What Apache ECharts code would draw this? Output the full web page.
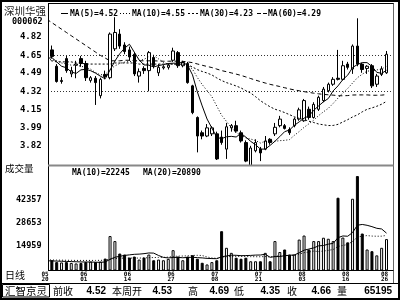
<!DOCTYPE html>
<html><head><meta charset="utf-8">
<script src="https://cdn.jsdelivr.net/npm/echarts@6/dist/echarts.min.js"></script>
<style>html,body{margin:0;padding:0;background:#fff}#c{width:400px;height:300px}</style>
</head><body><div id="c"></div>
<script>
const stockName = '深圳华强';
const stockCode = '000062';
const dates = ['05/20','05/23','05/24','05/25','05/26','05/27','05/30','05/31',
'06/01','06/02','06/03','06/06','06/07','06/08','06/09','06/10','06/13','06/14','06/15','06/16','06/17','06/20','06/21','06/22','06/23','06/24','06/27','06/28','06/29','06/30',
'07/01','07/04','07/05','07/06','07/07','07/08','07/11','07/12','07/13','07/14','07/15','07/18','07/19','07/20','07/21','07/22','07/25','07/26','07/27','07/28','07/29',
'08/01','08/02','08/03','08/04','08/05','08/08','08/09','08/10','08/11','08/12','08/15','08/16','08/17','08/18','08/19','08/22','08/23','08/24','08/25','08/26'];
const opens = [4.74,4.70,4.55,4.41,4.62,4.48,4.56,4.62,4.575,4.42,4.44,4.28,4.475,4.445,4.71,4.845,4.745,4.70,4.66,4.46,4.53,4.51,4.63,4.49,4.535,4.54,4.605,4.675,4.555,4.575,4.37,4.08,3.94,3.91,3.93,3.93,3.90,3.79,3.985,4.005,3.94,3.85,3.64,3.775,3.79,3.79,3.88,3.93,4.005,4.005,3.97,4.005,4.065,4.05,4.155,4.08,4.155,4.235,4.325,4.385,4.44,4.43,4.57,4.525,4.735,4.57,4.53,4.555,4.385,4.475,4.49];
const closes = [4.70,4.64,4.41,4.42,4.51,4.51,4.57,4.575,4.445,4.445,4.40,4.43,4.455,4.845,4.86,4.735,4.685,4.635,4.48,4.50,4.51,4.675,4.555,4.54,4.545,4.56,4.69,4.555,4.585,4.40,4.125,3.91,3.91,3.985,3.985,3.70,3.85,3.995,4.005,3.955,3.865,3.68,3.80,3.85,3.755,3.865,3.85,3.99,4.065,3.98,3.94,4.065,4.15,4.235,4.08,4.20,4.265,4.34,4.385,4.43,4.43,4.555,4.54,4.735,4.57,4.52,4.55,4.37,4.46,4.525,4.66];
const lows = [4.68,4.62,4.40,4.39,4.49,4.45,4.44,4.545,4.415,4.40,4.195,4.255,4.43,4.43,4.69,4.71,4.66,4.60,4.46,4.40,4.48,4.32,4.53,4.46,4.52,4.52,4.59,4.535,4.54,4.39,4.11,3.76,3.88,3.90,3.91,3.69,3.83,3.70,3.95,3.94,3.85,3.67,3.64,3.76,3.68,3.78,3.83,3.91,3.99,3.97,3.92,3.99,4.05,4.04,4.06,4.07,4.14,4.22,4.31,4.37,4.42,4.42,4.52,4.48,4.55,4.49,4.48,4.35,4.36,4.46,4.48];
const highs = [4.77,4.74,4.57,4.45,4.645,4.545,4.60,4.645,4.60,4.46,4.46,4.445,4.51,4.86,5.00,4.89,4.77,4.73,4.68,4.53,4.55,4.69,4.655,4.57,4.56,4.575,4.72,4.69,4.60,4.59,4.38,4.09,3.96,4.02,4.00,3.95,3.96,4.03,4.02,4.05,3.96,3.87,3.82,3.88,3.81,3.91,3.89,4.03,4.095,4.02,3.99,4.08,4.17,4.25,4.18,4.22,4.28,4.36,4.40,4.45,4.70,4.60,4.59,4.75,4.99,4.58,4.56,4.57,4.48,4.55,4.69];
const volumes = [6000,6100,5000,4800,5000,4500,4200,4500,5000,5300,5000,5300,7100,20500,17500,10100,9500,7700,8300,6500,7700,9500,6100,6500,6100,6900,12100,8300,6100,8300,9100,7000,4600,3600,5000,6100,23400,13500,10500,7600,7000,7600,5500,5500,5500,10500,5500,17500,11000,12500,9500,9500,18400,20800,12500,17500,17500,19500,18900,17500,43300,19600,16750,42700,56200,22000,12500,11500,9000,13500,18695];
const ma30 = [4.60,4.60,4.59,4.59,4.59,4.59,4.58,4.58,4.57,4.57,4.57,4.57,4.57,4.57,4.58,4.58,4.58,4.58,4.58,4.57,4.57,4.57,4.57,4.57,4.57,4.57,4.57,4.57,4.57,
4.563,4.543,4.519,4.502,4.488,4.470,4.443,4.419,4.400,4.385,4.369,4.351,4.326,4.304,4.271,4.234,4.205,4.178,4.156,4.142,4.125,4.106,4.086,4.072,4.062,4.046,4.034,4.020,4.013,4.006,4.007,4.017,4.039,4.060,4.085,4.104,4.132,4.155,4.168,4.183,4.202,4.228];
const ma60 = [4.98,4.95,4.92,4.89,4.86,4.83,4.80,4.77,4.74,4.71,4.68,4.65,4.625,4.60,4.60,4.60,4.605,4.605,4.603,4.60,4.60,4.60,4.60,4.598,4.596,4.596,4.597,4.596,4.595,4.59,4.583,4.571,4.559,4.548,4.538,4.524,4.510,4.50,4.489,4.478,4.466,4.452,4.437,4.423,4.409,4.396,4.384,4.374,4.364,4.353,4.342,4.333,4.325,4.317,4.310,4.303,4.297,4.292,4.288,4.285,4.280,4.279,4.281,4.286,4.287,4.287,4.287,4.284,4.284,4.285,4.290];
const ma5Lead = [4.62,4.63,4.59,4.55];
const ma10Lead = [4.61,4.61,4.60,4.58,4.57,4.56,4.56,4.55,4.54];
const volMa10Lead = [5800,5700,5600,5500,5400,5300,5200,5100,5050];
const volMa20Lead = [6300,6250,6200,6150,6100,6050,6000,6000,6000,6000,6000,6050,6100,6700,7100,7300,7400,7400,7400];
const priceTicks = [4.82,4.65,4.49,4.32,4.15,3.99,3.82];
const volTicks = [42357,28653,14959];
const refLevels = [4.65,4.32];
const labelDates = ['05/20','06/01','06/14','06/27','07/08','07/21','08/03','08/16','08/26'];
const priceLegend = ['MA(5)=4.52','MA(10)=4.55','MA(30)=4.23','MA(60)=4.29'];
const volLegend = ['MA(10)=22245','MA(20)=20890'];
const panelTitles = ['成交量','日线'];
const vendorName = '汇智京灵';
const weekLabels = ['前收','本周开','高','低','收','量'];
const weekValues = ['4.52','4.53','4.69','4.35','4.66','65195'];

function movingAverage(src, n, lead) {
  return src.map((_, i) => {
    if (i < n - 1) return lead[i];
    let s = 0;
    for (let k = i - n + 1; k <= i; k++) s += src[k];
    return +(s / n).toFixed(4);
  });
}
const ma5 = movingAverage(closes, 5, ma5Lead);
const ma10 = movingAverage(closes, 10, ma10Lead);
const volMa10 = movingAverage(volumes, 10, volMa10Lead);
const volMa20 = movingAverage(volumes, 20, volMa20Lead);

const BAND = 4.85, GL = 44.575, GW = BAND * dates.length;
const MONO = '"DejaVu Sans Mono"';
const CJK = '"Noto Sans CJK SC"';
const chart = echarts.init(document.getElementById('c'), null, {renderer: 'canvas', width: 400, height: 300});
const candleData = dates.map((_, i) => [opens[i], closes[i], lows[i], highs[i]]);
const line = (name, data, type, xi) => ({
  name, type: 'line', data, xAxisIndex: xi, yAxisIndex: xi, showSymbol: false, symbol: 'none',
  lineStyle: {color: '#000', width: 1, type}, z: 3, silent: true
});
const option = {
  animation: false,
  backgroundColor: '#fff',
  grid: [{left: GL, width: GW, top: 4, height: 162}, {left: GL, width: GW, top: 166, height: 104.5}],
  xAxis: [
    {type: 'category', gridIndex: 0, data: dates, boundaryGap: true, axisLine: {show: false}, axisTick: {show: false}, axisLabel: {show: false}, splitLine: {show: false}},
    {type: 'category', gridIndex: 1, data: dates, boundaryGap: true, z: 60, axisLine: {show: false}, axisTick: {show: false}, splitLine: {show: false},
      axisLabel: {interval: (i, v) => labelDates.includes(v), formatter: v => v.replace('/', '\n'),
        fontFamily: MONO, fontWeight: 'bold', fontSize: 6, lineHeight: 5, color: '#000', margin: 1, padding: [0, 4, 0, 0]}}
  ],
  yAxis: [
    {type: 'value', gridIndex: 0, min: 3.635, max: 5.121, z: 60, axisLine: {show: false}, axisTick: {show: false}, splitLine: {show: false},
      axisLabel: {customValues: priceTicks, formatter: v => v.toFixed(2), fontFamily: MONO, fontWeight: 'bold', fontSize: 9, color: '#000', margin: 3}},
    {type: 'value', gridIndex: 1, min: 0, max: 62180, z: 60, axisLine: {show: false}, axisTick: {show: false}, splitLine: {show: false},
      axisLabel: {customValues: volTicks, formatter: v => String(v), fontFamily: MONO, fontWeight: 'bold', fontSize: 8.5, color: '#000', margin: 3}}
  ],
  series: [
    {type: 'candlestick', data: candleData, xAxisIndex: 0, yAxisIndex: 0, barWidth: 3, silent: true,
      itemStyle: {color: '#fff', color0: '#000', borderColor: '#000', borderColor0: '#000', borderWidth: 1}},
    line('MA5', ma5, 'solid', 0),
    line('MA10', ma10, [1, 2], 0),
    line('MA30', ma30, [2, 2], 0),
    line('MA60', ma60, [4, 3], 0),
    {type: 'bar', data: volumes, xAxisIndex: 1, yAxisIndex: 1, barWidth: 3, silent: true,
      itemStyle: {color: p => closes[p.dataIndex] >= opens[p.dataIndex] ? '#fff' : '#000', borderColor: '#000', borderWidth: 1}},
    line('VMA10', volMa10, 'solid', 1),
    line('VMA20', volMa20, [1, 2], 1)
  ]
};
chart.setOption(option);

const g = [];
const txt = (text, x, y, font, align, extra) => g.push(Object.assign({type: 'text', x, y, z: 80, silent: true,
  style: {text, font, fill: '#000', align: align || 'left', verticalAlign: 'middle'}}, extra || {}));
const seg = (x1, y1, x2, y2, stroke, dash, w, z) => g.push({type: 'line', z: z || 70, silent: true,
  shape: {x1, y1, x2, y2}, style: {stroke, lineWidth: w || 1, lineDash: dash || null}});
// white label column
g.push({type: 'rect', z: 50, silent: true, shape: {x: 0, y: 0, width: 48, height: 283}, style: {fill: '#fff'}});
// reference dotted levels, placed through the price scale
refLevels.forEach(v => {
  const y = Math.round(chart.convertToPixel({yAxisIndex: 0}, v)) + 0.5;
  seg(48, y, 393, y, '#333', [1, 2], 1, 1);
});
// frame
g.push({type: 'rect', z: 70, silent: true, shape: {x: 1, y: 1, width: 398, height: 298}, style: {fill: null, stroke: '#000', lineWidth: 2}});
seg(48, 3.5, 394, 3.5, '#000');
seg(48.5, 3.5, 48.5, 270.5, '#000');
seg(393.5, 3.5, 393.5, 283.5, '#666');
seg(48, 165.5, 393.5, 165.5, '#888', null, 2);
seg(48, 270.5, 393.5, 270.5, '#000');
seg(0, 283.5, 400, 283.5, '#000');
g.push({type: 'rect', z: 70, silent: true, shape: {x: 2.5, y: 284.5, width: 47, height: 12.5}, style: {fill: null, stroke: '#000', lineWidth: 1}});
// left column texts
txt(stockName, 4, 11.5, '10.5px ' + CJK, 'left', {style: {text: stockName, font: '10.5px ' + CJK, fill: '#222', align: 'left', verticalAlign: 'middle'}});
txt(stockCode, 12, 22, 'bold 8.5px ' + MONO);
txt(panelTitles[0], 5, 168.5, '9.5px ' + CJK);
txt(panelTitles[1], 5, 275, '10px ' + CJK);
// price legend
const legY = 13.5;
seg(61, legY, 68, legY, '#000');
seg(120, legY, 130, legY, '#000', [1, 2]);
seg(188, legY, 198, legY, '#000', [2, 2]);
seg(257, legY, 267, legY, '#000', [4, 2]);
[70, 132, 200, 268].forEach((x, i) => txt(priceLegend[i], x, legY, 'bold 8px ' + MONO));
// volume legend
[72, 143].forEach((x, i) => txt(volLegend[i], x, 172.5, 'bold 8px ' + MONO));
// info bar
txt(vendorName, 5, 291, '10.5px ' + CJK);
[53, 112, 188, 234, 287, 337].forEach((x, i) => txt(weekLabels[i], x, 291, '10px ' + CJK));
[106, 172, 229, 280, 331, 392].forEach((x, i) => txt(weekValues[i], x, 291, 'bold 10px "Liberation Sans"', 'right'));
chart.setOption({graphic: g});
</script></body></html>
